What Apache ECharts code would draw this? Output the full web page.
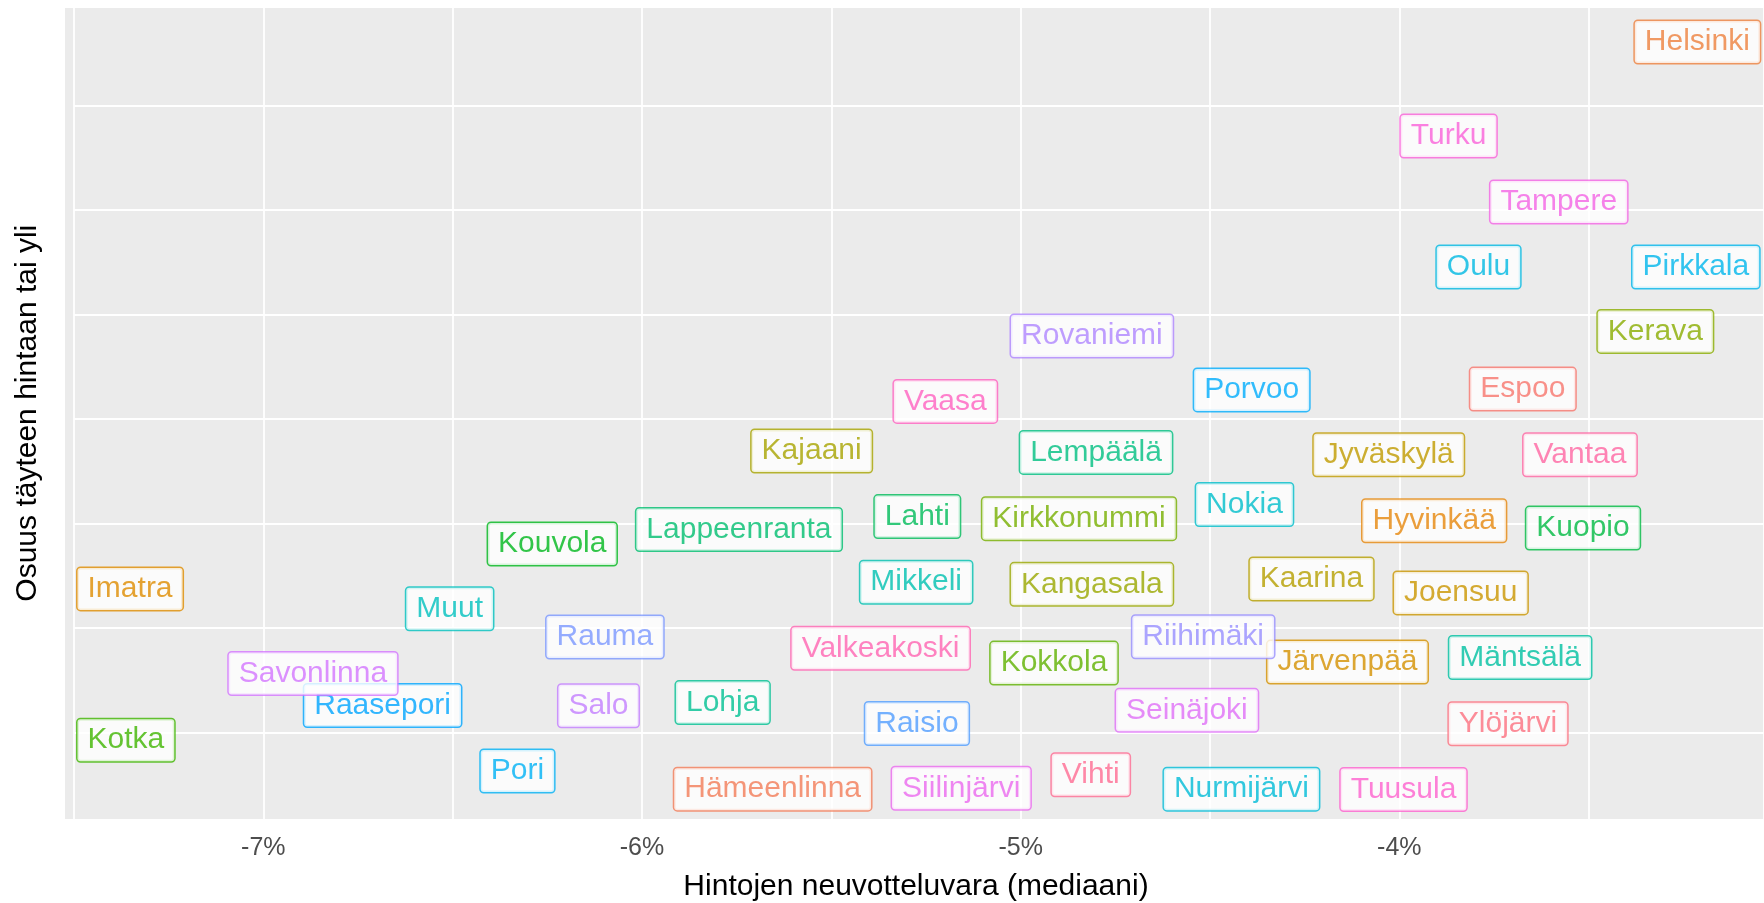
<!DOCTYPE html>
<html lang="fi">
<head>
    <meta charset="UTF-8">
    <title>Hintojen neuvotteluvara</title>
    <script src="https://cdn.jsdelivr.net/npm/echarts@6/dist/echarts.min.js"></script>
    <style>
        html, body { margin: 0; padding: 0; background: #fff; }
        #main { width: 1764px; height: 903px; }
    </style>
</head>
<body>
<div id="main"></div>
<script type="text/javascript">
    // kunnat aakkosjärjestyksessä (sama järjestys kuin värit)
    var cities = ['Espoo', 'Hämeenlinna', 'Helsinki', 'Hyvinkää', 'Imatra', 'Järvenpää', 'Joensuu',
        'Jyväskylä', 'Kaarina', 'Kajaani', 'Kangasala', 'Kerava', 'Kirkkonummi', 'Kokkola', 'Kotka',
        'Kouvola', 'Kuopio', 'Lahti', 'Lappeenranta', 'Lempäälä', 'Lohja', 'Mäntsälä', 'Mikkeli',
        'Muut', 'Nokia', 'Nurmijärvi', 'Oulu', 'Pirkkala', 'Pori', 'Porvoo', 'Raasepori', 'Raisio',
        'Rauma', 'Riihimäki', 'Rovaniemi', 'Salo', 'Savonlinna', 'Seinäjoki', 'Siilinjärvi',
        'Tampere', 'Turku', 'Tuusula', 'Vaasa', 'Valkeakoski', 'Vantaa', 'Vihti', 'Ylöjärvi'];

    // hintojen neuvotteluvara (mediaani), %
    var negotiation = [-3.674, -5.655, -3.213, -3.908, -7.352, -4.137, -3.838,
        -4.028, -4.232, -5.552, -4.812, -3.324, -4.846, -4.912, -7.363,
        -6.237, -3.515, -5.273, -5.744, -4.801, -5.787, -3.681, -5.276,
        -6.508, -4.409, -4.417, -3.791, -3.217, -6.329, -4.390, -6.685, -5.274,
        -6.098, -4.518, -4.812, -6.115, -6.869, -4.561, -5.157,
        -3.579, -3.870, -3.989, -5.199, -5.370, -3.523, -4.815, -3.713];

    // osuus täyteen hintaan tai yli (asteikko ilman arvoja kuvassa)
    var shareFull = [21.44, 2.30, 38.05, 15.14, 11.88, 8.38, 11.69,
        18.30, 12.36, 18.48, 12.10, 24.20, 15.24, 8.33, 4.64,
        14.03, 14.79, 15.34, 14.72, 18.41, 6.44, 8.60, 12.20,
        10.93, 15.92, 2.30, 27.28, 27.28, 3.17, 21.40, 6.30, 5.44,
        9.58, 9.59, 23.98, 6.29, 7.83, 6.07, 2.34,
        30.39, 33.55, 2.28, 20.85, 9.04, 18.30, 2.99, 5.43];

    var FONT = "'Liberation Sans', Arial, sans-serif";

    // ggplotin oletusväripaletti (hcl, c=100, l=65)
    function hcl(h, c, l) {
        var WU = 0.1978398, WV = 0.4683363, WY = 100;
        var hr = h * Math.PI / 180;
        var U = c * Math.cos(hr), V = c * Math.sin(hr);
        var Y = WY * (l > 7.999592 ? Math.pow((l + 16) / 116, 3) : l / 903.3);
        var u = U / (13 * l) + WU, v = V / (13 * l) + WV;
        var X = 9 * Y * u / (4 * v);
        var Z = -X / 3 - 5 * Y + 3 * Y / v;
        function g(t) {
            t = t > 0.00304 ? 1.055 * Math.pow(t, 1 / 2.4) - 0.055 : 12.92 * t;
            var n = Math.round(255 * Math.min(1, Math.max(0, t)));
            return (n < 16 ? '0' : '') + n.toString(16);
        }
        return '#' + g((3.240479 * X - 1.537150 * Y - 0.498535 * Z) / WY)
            + g((-0.969256 * X + 1.875992 * Y + 0.041556 * Z) / WY)
            + g((0.055648 * X - 0.204043 * Y + 1.057311 * Z) / WY);
    }
    function huePal(n) {
        var cols = [];
        for (var i = 0; i < n; i++) {
            cols.push(hcl(15 + i * 360 / n, 100, 65));
        }
        return cols;
    }
    var colors = huePal(cities.length);

    var data = [];
    for (var i = 0; i < cities.length; i++) {
        data.push({
            name: cities[i],
            value: [negotiation[i], shareFull[i]],
            label: { color: colors[i], borderColor: colors[i] }
        });
    }

    var myChart = echarts.init(document.getElementById('main'));

    var option = {
        animation: false,
        backgroundColor: '#ffffff',
        graphic: [{
            type: 'rect',
            z: -10,
            silent: true,
            shape: { x: 65, y: 8, width: 1699, height: 811 },
            style: { fill: '#EBEBEB' }
        }],
        grid: { left: 74, right: 0, top: 1.2, bottom: 65.8, outerBoundsMode: 'none', containLabel: false },
        xAxis: {
            type: 'value',
            min: -7.5,
            max: -3.037,
            interval: 0.5,
            name: 'Hintojen neuvotteluvara (mediaani)',
            nameLocation: 'middle',
            nameGap: 35,
            nameTextStyle: { fontSize: 30, color: '#000', fontFamily: FONT, padding: [0, 6, 0, 0] },
            axisLine: { show: false },
            axisTick: { show: false },
            axisLabel: {
                interval: 0,
                showMaxLabel: false,
                fontSize: 25,
                color: '#4D4D4D',
                fontFamily: FONT,
                margin: -2,
                formatter: function (v) {
                    return Number.isInteger(v) ? v + '%' : '';
                }
            },
            splitLine: { lineStyle: { color: '#ffffff', width: 1.8 } }
        },
        yAxis: {
            type: 'value',
            min: 0,
            max: 40,
            interval: 5,
            name: 'Osuus täyteen hintaan tai yli',
            nameLocation: 'middle',
            nameGap: 31,
            nameTextStyle: { fontSize: 30, color: '#000', fontFamily: FONT, padding: [0, 0, 0, 12] },
            axisLine: { show: false },
            axisTick: { show: false },
            axisLabel: { show: false },
            splitLine: { lineStyle: { color: '#ffffff', width: 1.8 } }
        },
        series: [{
            type: 'scatter',
            symbolSize: 0,
            itemStyle: { color: 'rgba(0,0,0,0)' },
            label: {
                show: true,
                position: 'inside',
                formatter: '{b}',
                fontFamily: FONT,
                fontSize: 30,
                lineHeight: 30,
                backgroundColor: '#ffffff',
                borderWidth: 1.5,
                borderRadius: 3,
                padding: [6, 10, 6, 10],
                textBorderWidth: 0
            },
            data: data
        }]
    };

    myChart.setOption(option);
</script>
</body>
</html>
